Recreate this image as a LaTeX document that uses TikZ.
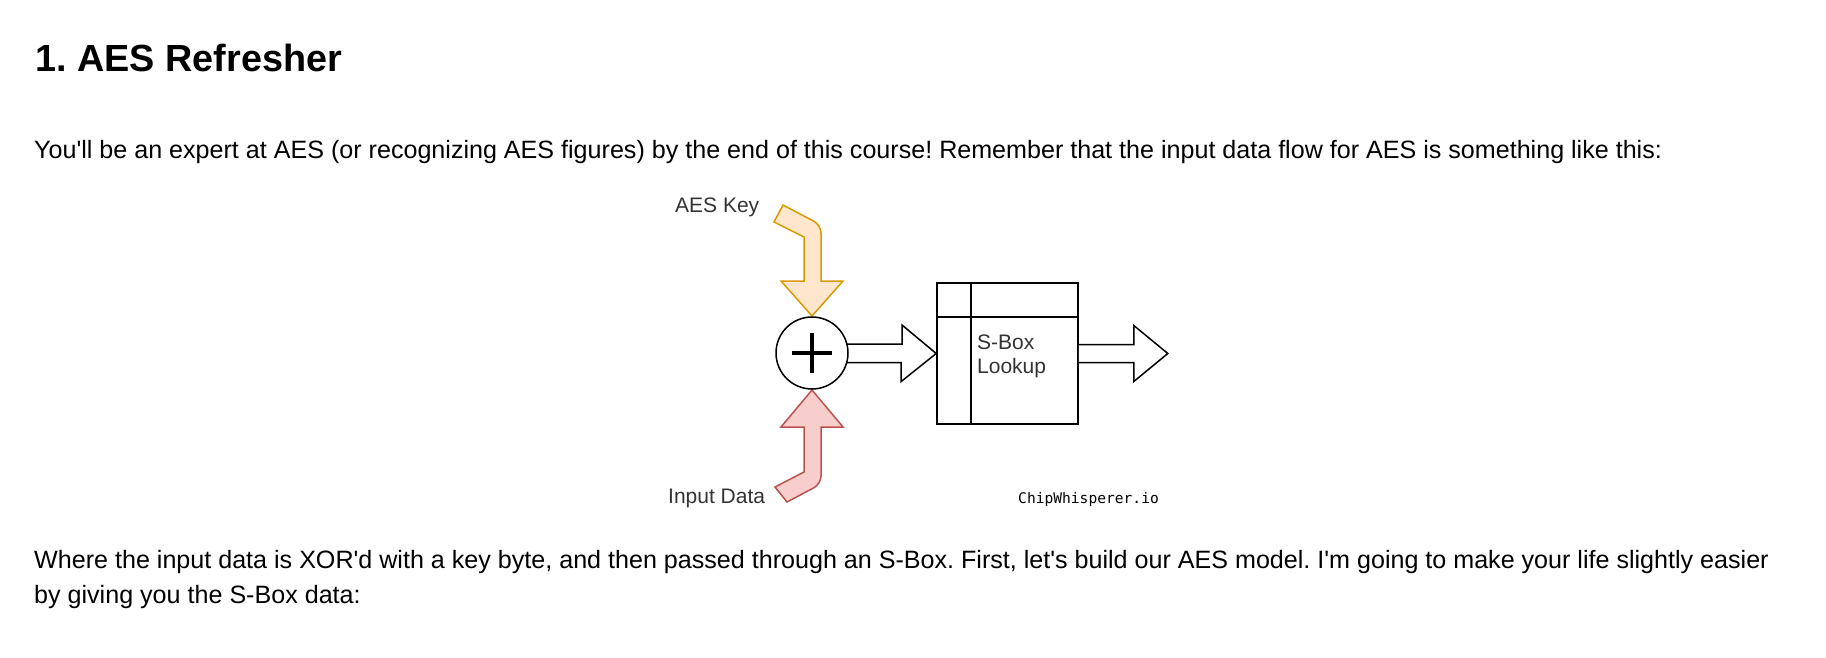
\documentclass[tikz,border=0pt]{standalone}
\usepackage{fontspec}
\setmainfont{Liberation Sans}
\newfontfamily\pagefont{Liberation Sans}
\newfontfamily\monofont{DejaVu Sans Mono}
\usetikzlibrary{positioning}

\definecolor{keyfill}{HTML}{FFE6CC}
\definecolor{keyline}{HTML}{D79B00}
\definecolor{datafill}{HTML}{F8CECC}
\definecolor{dataline}{HTML}{B85450}
\definecolor{taggray}{HTML}{333333}

\tikzset{
  heading/.style={anchor=base west, inner sep=0pt, font=\pagefont\bfseries\fontsize{37.8}{44}\selectfont},
  bodytext/.style={anchor=base west, inner sep=0pt, font=\pagefont\fontsize{25.1}{35}\selectfont},
  tag/.style={anchor=base west, inner sep=0pt, text=taggray, font=\pagefont\fontsize{21}{24}\selectfont},
  keyarrow/.style={draw=keyline, fill=keyfill, line width=1.5pt, line join=miter},
  dataarrow/.style={draw=dataline, fill=datafill, line width=1.5pt, line join=miter},
  blockarrow/.style={draw=black, fill=white, line width=1.5pt, line join=miter},
}

\frenchspacing
\begin{document}
\begin{tikzpicture}[x=1pt, y=-1pt]
    \useasboundingbox (0,0) rectangle (1826,658);

    % 1. Text of the page
    \node[heading] (head) at (35,72) {1. AES Refresher};
    \node[bodytext] (intro) at (34,158) {You'll be an expert at AES (or recognizing AES figures) by the end of this course! Remember that the input data flow for AES is something like this:};
    \node[bodytext] (where) at (34,568) {Where the input data is XOR'd with a key byte, and then passed through an S-Box. First, let's build our AES model. I'm going to make your life slightly easier};
    \node[bodytext] (give) at (34,603) {by giving you the S-Box data:};

    % 2. Nodes of the diagram
    \coordinate (c) at (812,353);
    \node[draw, line width=1.6pt, minimum width=141pt, minimum height=141pt, inner sep=0pt] (sbox) at (1007.5,353.5) {};

    % The key and data arrows (bent block arrows)
    \draw[keyarrow] (774,222) -- (783,205) [rounded corners=8pt] -- (821,225) [sharp corners] -- (821,281)
        -- (843,281) -- (812,316) -- (781,281) -- (804,281) -- (804,237) -- cycle;
    \draw[dataarrow] (812,390) -- (843,427) -- (821,427) [rounded corners=8pt] -- (821,484) [sharp corners]
        -- (787,502) -- (775,487) -- (804,472) -- (804,427) -- (781,427) -- cycle;

    % The hollow arrows: xor -> sbox -> out
    \draw[blockarrow] (c) ++(34,-9) -- ++(56,0) -- ++(0,-19) -- (sbox.west) -- ++(-35,28) -- ++(0,-19) -- ++(-56,0);
    \draw[blockarrow] (sbox.east) ++(0,-9) -- ++(55,0) -- ++(0,-19) -- ++(34,28) -- ++(-34,28) -- ++(0,-19) -- ++(-55,0);

    % The XOR
    \node[circle, draw, fill=white, line width=1.5pt, minimum size=72pt, inner sep=0pt] (xor) at (c) {};
    \draw[line width=4pt] (xor.center) ++(-20,0) -- ++(40,0);
    \draw[line width=4pt] (xor.center) ++(0,-20) -- ++(0,40);

    % Inside of the S-Box table
    \draw[line width=1.6pt] (sbox.north west) ++(35,0) -- ++(0,141);
    \draw[line width=1.6pt] (sbox.north west) ++(0,35) -- ++(141,0);

    % 3. Labels
    \node[tag] (keylabel) at (675,212) {AES Key};
    \node[tag] (datalabel) at (668,503) {Input Data};
    \node[tag, align=left] (sboxlabel) at (977,373) {S-Box\\Lookup};
    \node[anchor=base west, inner sep=0pt, font=\monofont\fontsize{14.6}{16}\selectfont] (brand) at (1018,503) {ChipWhisperer.io};
\end{tikzpicture}
\end{document}
